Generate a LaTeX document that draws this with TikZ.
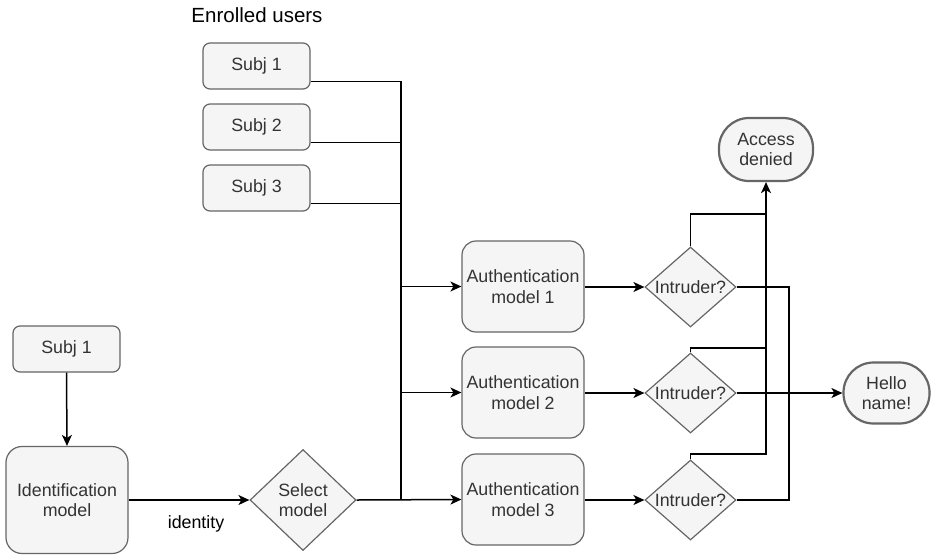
\documentclass[tikz,border=0pt]{standalone}
\usepackage{fontspec}
\setmainfont{Liberation Sans}
\usetikzlibrary{shapes.geometric,arrows.meta}
\definecolor{boxfill}{HTML}{F5F5F5}
\definecolor{boxline}{HTML}{666666}
\definecolor{boxtext}{HTML}{333333}
\begin{document}
\begin{tikzpicture}[x=1pt,y=-1pt,
  base/.style={draw=boxline, fill=boxfill, text=boxtext, line width=1.2pt, inner sep=0pt,
    align=center, font=\fontsize{17.8}{20.5}\selectfont},
  subjbox/.style={base, rounded corners=7pt, minimum width=107pt, minimum height=46pt},
  authbox/.style={base, rounded corners=14pt, minimum width=122pt, minimum height=91pt},
  idbox/.style={base, rounded corners=16pt, minimum width=122pt, minimum height=107pt},
  dia/.style={draw=boxline, fill=boxfill, line width=1.2pt, shape=diamond, inner sep=0pt},
  diatext/.style={text=boxtext, align=center, inner sep=0pt, font=\fontsize{17.8}{20.5}\selectfont},
  term/.style={base, line width=2.2pt, rounded corners=30pt},
  plain/.style={text=black, inner sep=0pt},
  conn/.style={draw=black, line width=1.5pt},
  arr/.style={conn, -{Stealth[length=11pt, width=10pt, inset=3pt]}}
]
\useasboundingbox (0,0) rectangle (931,555);

% title
\node[plain, font=\fontsize{20.5}{24}\selectfont] (eu) at (257,15) {Enrolled users};

% enrolled subjects
\node[subjbox] (s1) at (256.5,66) {Subj 1};
\node[subjbox] (s2) at (256.5,127) {Subj 2};
\node[subjbox] (s3) at (256.5,188) {Subj 3};

% query subject and identification
\node[subjbox] (q1) at (66.5,349) {Subj 1};
\node[idbox] (id) at (67,500) {Identification\\model};
\node[dia, minimum width=106pt, minimum height=101pt] (sel) at (303,500) {};
\node[diatext] (selt) at (sel) {Select\\model};
\node[plain, font=\fontsize{17.8}{20.5}\selectfont] (idl) at (196,524) {identity};

% authentication models
\node[authbox] (a1) at (523,286.5) {Authentication\\model 1};
\node[authbox] (a2) at (523,392.5) {Authentication\\model 2};
\node[authbox] (a3) at (523,499.5) {Authentication\\model 3};

% intruder decisions
\node[dia, minimum width=91pt, minimum height=80pt] (i1) at (690.5,287) {};
\node[diatext] (i1t) at (i1) {Intruder?};
\node[dia, minimum width=91pt, minimum height=80pt] (i2) at (690.5,393) {};
\node[diatext] (i2t) at (i2) {Intruder?};
\node[dia, minimum width=91pt, minimum height=80pt] (i3) at (690.5,500) {};
\node[diatext] (i3t) at (i3) {Intruder?};

% outcomes
\node[term, minimum width=94pt, minimum height=63pt] (ad) at (766,149.5) {Access\\denied};
\node[term, minimum width=86pt, minimum height=61pt] (hn) at (886.5,393) {Hello\\name!};

% junction coordinates
\coordinate (p1) at ([yshift=8pt]s1.south east);
\coordinate (p2) at ([yshift=8pt]s2.south east);
\coordinate (p3) at ([yshift=8pt]s3.south east);
\coordinate (bt) at (401,81);
\coordinate (bb) at (401,500);
\coordinate (j1) at (766,214);
\coordinate (j2) at (766,348);
\coordinate (j3) at (766,454);
\coordinate (k) at (789,393);

% left part
\draw[arr] (q1.south) -- (id.north);
\draw[arr] (id.east |- sel.west) -- (sel.west);

% enrolled bus
\draw[conn] (p1) -- (bt |- p1) -- (bb);
\draw[conn] (p2) -- (bt |- p2);
\draw[conn] (p3) -- (bt |- p3);
\draw[arr] (bt |- a1.west) -- (a1.west);
\draw[arr] (bt |- a2.west) -- (a2.west);
\draw[arr] (sel.east) -- (a3.west);

% auth -> intruder
\draw[arr] (a1.east |- i1.west) -- (i1.west);
\draw[arr] (a2.east |- i2.west) -- (i2.west);
\draw[arr] (a3.east |- i3.west) -- (i3.west);

% intruder -> access denied
\draw[conn] (i1.north) |- (j1);
\draw[conn] (i2.north) |- (j2);
\draw[arr] (i3.north) |- (j3) -- (ad.south);

% intruder -> hello
\draw[conn] (i1.east) -| (k);
\draw[conn] (i3.east) -| (k);
\draw[arr] (i2.east) -- (hn.west);
\draw[conn, line width=2.2pt] (k) -- ([xshift=-9pt]hn.west);
\end{tikzpicture}
\end{document}
